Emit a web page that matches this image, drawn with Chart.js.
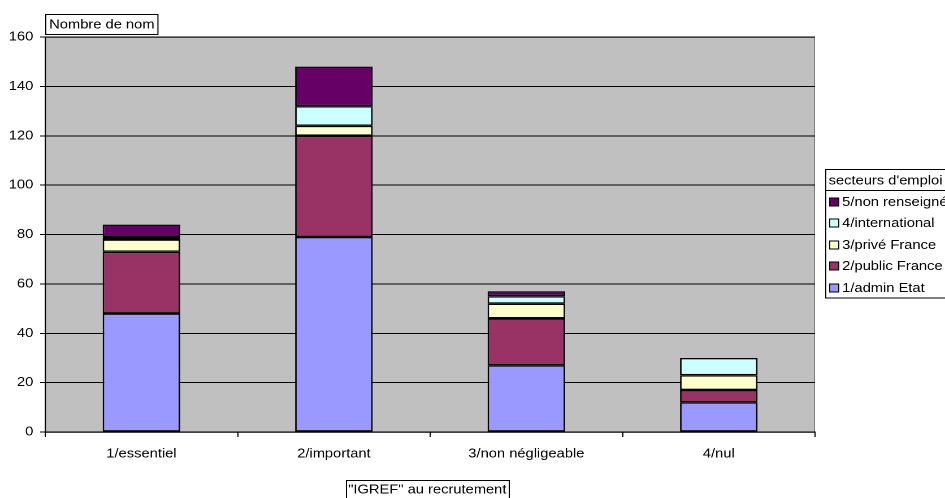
<!DOCTYPE html>
<html lang="fr">
<head>
<meta charset="utf-8">
<title>Nombre de nom par "IGREF" au recrutement</title>
<script src="https://cdn.jsdelivr.net/npm/chart.js@4"></script>
<style>
  html, body { margin: 0; padding: 0; background: #fff; overflow: hidden; }
  /* the chart is laid out on a narrower canvas and widened, giving the wide letterforms */
  #wrap { width: 836px; height: 498px; transform: scaleX(1.1304); transform-origin: 0 0; }
  #chart { display: block; width: 836px; height: 498px; }
</style>
</head>
<body>
<div id="wrap"><canvas id="chart" width="836" height="498"></canvas></div>
<script>
// categories on the x axis
const categories = ['1/essentiel', '2/important', '3/non négligeable', '4/nul'];

// stacked series, bottom to top
const adminEtat     = [48, 79, 27, 12];
const publicFrance  = [25, 41, 19, 5];
const priveFrance   = [5, 4, 6, 6];
const international = [1, 8, 3, 7];
const nonRenseigne  = [5, 16, 2, 0];

const seriesNames  = ['1/admin Etat', '2/public France', '3/privé France', '4/international', '5/non renseigné'];
const seriesColors = ['#9999FF', '#993366', '#FFFFCC', '#CCFFFF', '#660066'];

// value axis ticks
const yMin = 0, yMax = 160, yStep = 20;

const yTitle = 'Nombre de nom';
const xTitle = '"IGREF" au recrutement';
const legendTitle = "secteurs d'emploi";

const FONT_FAMILY = '"Liberation Sans", Arial, sans-serif';
const FONT_SIZE = 13;

const seriesValues = [adminEtat, publicFrance, priveFrance, international, nonRenseigne];

const datasets = seriesValues.map((values, i) => ({
  label: seriesNames[i],
  data: values,
  backgroundColor: seriesColors[i],
  borderColor: '#000000',
  borderWidth: 1.4,
  borderSkipped: false,
  categoryPercentage: 1.0,
  barPercentage: 0.403
}));

// grey plot area with its thin frame
const plotBackground = {
  id: 'plotBackground',
  beforeDraw(chart) {
    const { ctx, chartArea: a } = chart;
    ctx.save();
    ctx.fillStyle = '#C0C0C0';
    ctx.fillRect(a.left, a.top, a.right - a.left, a.bottom - a.top);
    ctx.strokeStyle = '#808080';
    ctx.lineWidth = 1;
    ctx.strokeRect(a.left + 0.5, a.top + 0.5, a.right - a.left - 1, a.bottom - a.top);
    ctx.restore();
  }
};

// boxed axis titles and the framed legend at the right
const annotations = {
  id: 'annotations',
  afterDraw(chart) {
    const { ctx, chartArea: a } = chart;
    ctx.save();
    ctx.font = FONT_SIZE + 'px ' + FONT_FAMILY;
    ctx.fillStyle = '#000';
    ctx.strokeStyle = '#000';
    ctx.lineWidth = 1;
    ctx.textBaseline = 'middle';
    ctx.textAlign = 'left';

    // value-axis title, boxed above the axis
    const yw = ctx.measureText(yTitle).width;
    ctx.fillStyle = '#fff';
    ctx.fillRect(a.left + 0.5, 14.5, yw + 6, 20);
    ctx.strokeRect(a.left + 0.5, 14.5, yw + 6, 20);
    ctx.fillStyle = '#000';
    ctx.fillText(yTitle, a.left + 3.5, 25);

    // category-axis title, boxed below the labels
    const xw = ctx.measureText(xTitle).width;
    const xc = (a.left + a.right) / 2 - 3;
    ctx.fillStyle = '#fff';
    ctx.fillRect(Math.round(xc - xw / 2 - 2) + 0.5, 480.5, xw + 4, 30);
    ctx.strokeRect(Math.round(xc - xw / 2 - 2) + 0.5, 480.5, xw + 4, 30);
    ctx.fillStyle = '#000';
    ctx.fillText(xTitle, Math.round(xc - xw / 2), 490);

    // legend: title box, then entry box
    const lx = 730.5;
    ctx.fillStyle = '#fff';
    ctx.fillRect(lx, 169.5, 200, 21);
    ctx.strokeRect(lx, 169.5, 200, 21);
    ctx.fillRect(lx, 190.5, 200, 107.5);
    ctx.strokeRect(lx, 190.5, 200, 107.5);
    ctx.fillStyle = '#000';
    ctx.fillText(legendTitle, lx + 2.5, 181);

    const rowY = [201.7, 223.3, 244.5, 265.8, 287.7];
    const order = chart.data.datasets.map((d, i) => i).reverse();
    order.forEach((di, r) => {
      const ds = chart.data.datasets[di];
      const y = Math.round(rowY[r]);
      ctx.fillStyle = ds.backgroundColor;
      ctx.fillRect(lx + 3.5, y - 4, 8, 8);
      ctx.strokeRect(lx + 3.5, y - 4, 8, 8);
      ctx.fillStyle = '#000';
      ctx.fillText(ds.label, lx + 14.5, y + 0.5);
    });
    ctx.restore();
  }
};

new Chart(document.getElementById('chart'), {
  type: 'bar',
  data: { labels: categories, datasets },
  options: {
    responsive: false,
    animation: false,
    devicePixelRatio: 2,
    layout: { padding: { left: 0, right: 115, top: 37, bottom: 0 } },
    plugins: {
      legend: { display: false },
      title: { display: false },
      tooltip: { enabled: false }
    },
    scales: {
      x: {
        stacked: true,
        offset: true,
        afterFit(scale) { scale.height = 66; },
        grid: {
          display: true,
          offset: true,
          drawOnChartArea: false,
          drawTicks: true,
          tickLength: 5,
          color: '#000',
          lineWidth: 1
        },
        border: { display: true, color: '#000', width: 1 },
        ticks: {
          color: '#000',
          padding: 9,
          maxRotation: 0,
          autoSkip: false,
          font: { family: FONT_FAMILY, size: FONT_SIZE }
        }
      },
      y: {
        stacked: true,
        min: yMin,
        max: yMax,
        afterFit(scale) { scale.width = 40; },
        grid: {
          color: '#000',
          lineWidth: 1,
          drawTicks: true,
          tickLength: 4.5
        },
        border: { display: true, color: '#000', width: 1 },
        ticks: {
          stepSize: yStep,
          color: '#000',
          padding: 6,
          font: { family: FONT_FAMILY, size: FONT_SIZE }
        }
      }
    }
  },
  plugins: [plotBackground, annotations]
});
</script>
</body>
</html>
